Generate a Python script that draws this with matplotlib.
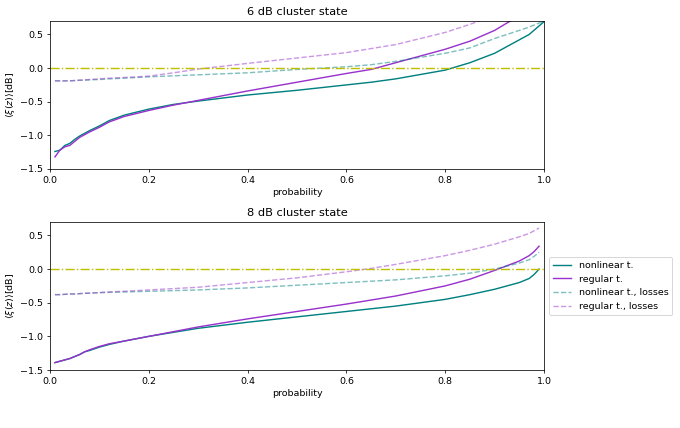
import numpy as np
import matplotlib
matplotlib.use("Agg")
from matplotlib import pyplot as plt

# 6 dB cluster state
p6 = [0.01, 0.02, 0.03, 0.04, 0.05, 0.06, 0.07, 0.08, 0.10, 0.12, 0.15, 0.20, 0.25,
      0.30, 0.40, 0.50, 0.60, 0.65, 0.70, 0.80, 0.85, 0.90, 0.95, 0.97, 1.00]
nl_6 = [-1.24, -1.22, -1.15, -1.12, -1.06, -1.01, -0.97, -0.93, -0.86, -0.78, -0.70, -0.61, -0.54,
        -0.49, -0.40, -0.33, -0.25, -0.21, -0.16, -0.03, 0.08, 0.22, 0.42, 0.50, 0.69]
reg_6 = [-1.32, -1.22, -1.17, -1.15, -1.09, -1.03, -0.99, -0.95, -0.88, -0.80, -0.72, -0.63, -0.55,
         -0.48, -0.34, -0.21, -0.08, -0.02, 0.08, 0.28, 0.40, 0.56, 0.78, 0.86, 1.00]
nl_loss_6 = [-0.19, -0.19, -0.19, -0.19, -0.185, -0.18, -0.18, -0.175, -0.17, -0.16, -0.15, -0.13, -0.115,
             -0.10, -0.07, -0.02, 0.02, 0.05, 0.10, 0.22, 0.30, 0.44, 0.56, 0.61, 0.70]
reg_loss_6 = [-0.19, -0.19, -0.19, -0.19, -0.185, -0.18, -0.175, -0.17, -0.16, -0.15, -0.14, -0.12, -0.07,
              -0.015, 0.07, 0.15, 0.23, 0.29, 0.35, 0.53, 0.65, 0.78, 0.95, 1.02, 1.10]

# 8 dB cluster state
p8 = [0.01, 0.02, 0.03, 0.04, 0.05, 0.06, 0.07, 0.08, 0.10, 0.12, 0.15, 0.20, 0.25,
      0.30, 0.40, 0.50, 0.60, 0.65, 0.70, 0.80, 0.85, 0.90, 0.95, 0.97, 0.98, 0.99]
nl_8 = [-1.39, -1.37, -1.35, -1.33, -1.30, -1.27, -1.23, -1.21, -1.16, -1.12, -1.07, -1.00, -0.94,
        -0.88, -0.79, -0.71, -0.63, -0.59, -0.55, -0.45, -0.38, -0.30, -0.20, -0.14, -0.08, 0.00]
reg_8 = [-1.39, -1.37, -1.35, -1.33, -1.30, -1.27, -1.23, -1.20, -1.15, -1.11, -1.07, -1.00, -0.93,
         -0.86, -0.74, -0.63, -0.52, -0.46, -0.40, -0.25, -0.15, -0.02, 0.12, 0.20, 0.26, 0.34]
nl_loss_8 = [-0.38, -0.38, -0.375, -0.37, -0.37, -0.365, -0.36, -0.36, -0.35, -0.345, -0.34, -0.33, -0.32,
             -0.31, -0.28, -0.24, -0.20, -0.18, -0.16, -0.10, -0.06, 0.00, 0.09, 0.14, 0.19, 0.25]
reg_loss_8 = [-0.38, -0.38, -0.375, -0.37, -0.37, -0.365, -0.36, -0.355, -0.35, -0.34, -0.33, -0.31, -0.29,
              -0.27, -0.20, -0.13, -0.04, 0.01, 0.07, 0.20, 0.28, 0.37, 0.48, 0.53, 0.57, 0.61]

titles = ["6 dB cluster state", "8 dB cluster state"]
labels = ["nonlinear t.", "regular t.", "nonlinear t., losses", "regular t., losses"]

fig = plt.figure(figsize=(10, 428 / 68), dpi=68)
ax_top = fig.add_axes([50 / 680, 1 - 169 / 428, 494 / 680, 148 / 428])
ax_bot = fig.add_axes([50 / 680, 1 - 370 / 428, 494 / 680, 148 / 428])

panels = [
    (ax_top, p6, nl_6, reg_6, nl_loss_6, reg_loss_6),
    (ax_bot, p8, nl_8, reg_8, nl_loss_8, reg_loss_8),
]

for (ax, p, nl, reg, nl_loss, reg_loss), title in zip(panels, titles):
    ax.plot(p, nl, color="teal", label=labels[0])
    ax.plot(p, reg, color="darkorchid", label=labels[1])
    ax.plot(p, nl_loss, color="teal", alpha=0.5, linestyle="--", label=labels[2])
    ax.plot(p, reg_loss, color="darkorchid", alpha=0.5, linestyle="--", label=labels[3])
    ax.axhline(0.0, color="y", linestyle="-.")
    ax.set_xlim(0, 1)
    ax.set_ylim(-1.5, 0.7)
    ax.set_xticks(np.arange(0, 1.01, 0.2))
    ax.set_yticks([-1.5, -1.0, -0.5, 0.0, 0.5])
    ax.set_title(title, fontsize=12)
    ax.set_xlabel("probability")
    ax.set_ylabel(r"$\langle\xi(z)\rangle$[dB]")

ax_bot.legend(loc="center left", bbox_to_anchor=(1.0, 0.567))

plt.savefig("out.png", dpi=68)
plt.close()
